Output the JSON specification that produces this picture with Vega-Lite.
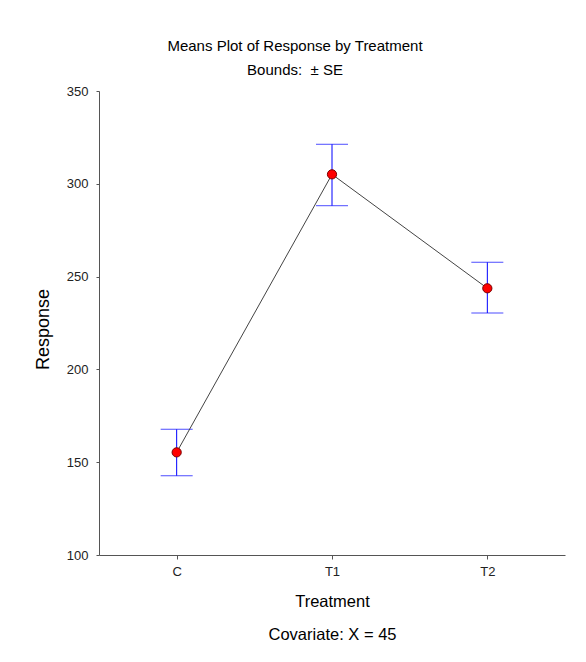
{
  "$schema": "https://vega.github.io/schema/vega-lite/v6.json",
  "width": 466,
  "height": 464,
  "autosize": {"type": "none"},
  "padding": {"left": 99, "top": 91, "right": 21, "bottom": 107},
  "background": "white",
  "config": {
    "font": "Liberation Sans",
    "view": {"stroke": null}
  },
  "title": {
    "text": "Means Plot of Response by Treatment",
    "subtitle": "Bounds:\u00a0\u00a0± SE",
    "fontSize": 15,
    "fontWeight": "normal",
    "subtitleFontSize": 15,
    "color": "#000000",
    "subtitleColor": "#000000",
    "anchor": "middle",
    "dx": -37,
    "offset": 7,
    "subtitlePadding": 9
  },
  "data": {
    "values": [
      {"Treatment": "C", "Mean": 155.3, "Lower": 142.7, "Upper": 167.7},
      {"Treatment": "T1", "Mean": 305.1, "Lower": 288.2, "Upper": 321.3},
      {"Treatment": "T2", "Mean": 243.7, "Lower": 230.4, "Upper": 257.7}
    ]
  },
  "encoding": {
    "x": {
      "field": "Treatment",
      "type": "nominal",
      "scale": {"type": "point", "padding": 0.5},
      "axis": {
        "title": ["Treatment", "Covariate: X = 45"],
        "titleFontSize": 16.5,
        "titleFontWeight": "normal",
        "titleColor": "#000000",
        "titleLineHeight": 33,
        "titlePadding": 15,
        "labelAngle": 0,
        "labelFontSize": 13,
        "labelColor": "#222222",
        "labelPadding": 6,
        "tickSize": 4,
        "tickColor": "#555555",
        "domainColor": "#555555",
        "grid": false
      }
    }
  },
  "layer": [
    {
      "mark": {"type": "rule", "color": "#0000ff", "strokeWidth": 1},
      "encoding": {
        "y": {
          "field": "Lower",
          "type": "quantitative",
          "scale": {"domain": [100, 350], "nice": false, "zero": false},
          "axis": {
            "title": "Response",
            "titleFontSize": 18,
            "titleFontWeight": "normal",
            "titleColor": "#000000",
            "titlePadding": 14,
            "titleY": 238,
            "values": [100, 150, 200, 250, 300, 350],
            "labelFontSize": 13,
            "labelColor": "#222222",
            "labelPadding": 8,
            "tickSize": 3,
            "tickColor": "#555555",
            "domainColor": "#555555",
            "grid": false
          }
        },
        "y2": {"field": "Upper"}
      }
    },
    {
      "mark": {"type": "tick", "color": "#0000ff", "size": 32, "thickness": 1, "orient": "horizontal"},
      "encoding": {"y": {"field": "Upper", "type": "quantitative"}}
    },
    {
      "mark": {"type": "tick", "color": "#0000ff", "size": 32, "thickness": 1, "orient": "horizontal"},
      "encoding": {"y": {"field": "Lower", "type": "quantitative"}}
    },
    {
      "mark": {"type": "line", "color": "#444444", "strokeWidth": 1},
      "encoding": {"y": {"field": "Mean", "type": "quantitative"}}
    },
    {
      "mark": {"type": "point", "filled": true, "fill": "#ff0000", "stroke": "#7a0000", "strokeWidth": 1, "opacity": 1, "size": 85},
      "encoding": {"y": {"field": "Mean", "type": "quantitative"}}
    }
  ]
}
